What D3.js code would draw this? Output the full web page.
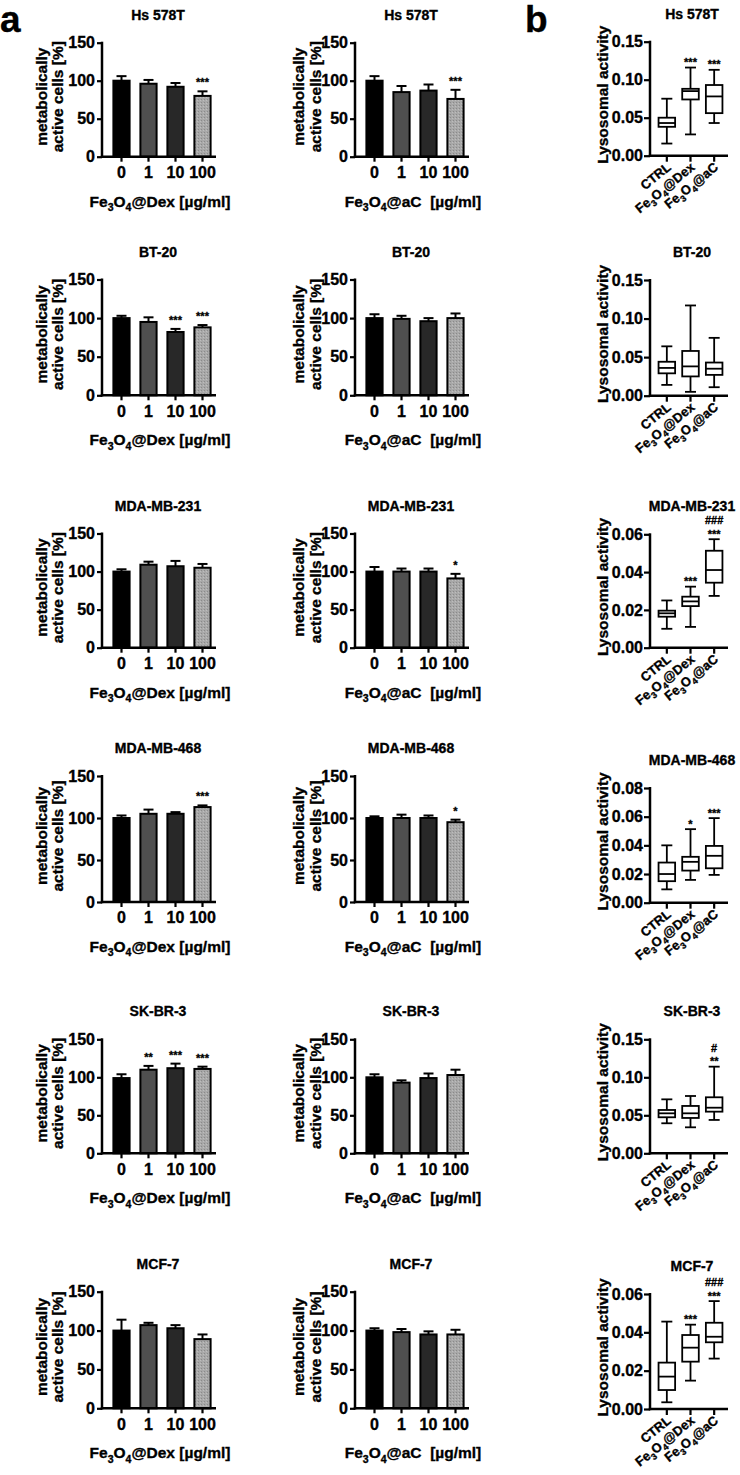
<!DOCTYPE html>
<html><head><meta charset="utf-8">
<script src="https://cdn.jsdelivr.net/npm/d3@7"></script>
<style>
body{margin:0;background:#fff}
text{font-family:"Liberation Sans",Arial,sans-serif;font-weight:bold;fill:#000;stroke:#000;stroke-width:0.35px;white-space:pre}
</style>
</head><body>
<svg id="c" width="740" height="1475"></svg>
<script>
// ---------- DATA ----------
const cellLines = ["Hs 578T","BT-20","MDA-MB-231","MDA-MB-468","SK-BR-3","MCF-7"];
const doses = ["0","1","10","100"];
// panel a – Fe3O4@Dex: mean, upper SD, significance
const dexMean = [[100,96,92,80],[100,95,82,88],[100,109,107,105],[100,105,105,113],[99,110,112,111],[100,107,103,89]];
const dexErr  = [[6,5,5,6],[3,6,4,3],[3,4,7,5],[3,5,2,2],[5,5,6,3],[14,3,4,6]];
const dexSig  = [["","","","***"],["","","***","***"],["","","",""],["","","","***"],["","**","***","***"],["","","",""]];
// panel a – Fe3O4@aC
const acMean = [[100,85,87,76],[100,99,96,100],[100,100,100,91],[100,100,100,95],[100,93,99,103],[100,98,95,95]];
const acErr  = [[6,8,8,12],[5,4,4,6],[6,4,4,6],[2,4,3,3],[4,3,6,7],[3,4,4,6]];
const acSig  = [["","","","***"],["","","",""],["","","","*"],["","","","*"],["","","",""],["","","",""]];
const aTicks = [0,50,100,150];
// panel b – lysosomal activity boxes [min, q1, median, q3, max]
const groups = ["CTRL","Fe3O4@Dex","Fe3O4@aC"];
const lysoMax  = [0.15,0.15,0.06,0.08,0.15,0.06];
const lysoStep = [0.05,0.05,0.02,0.02,0.05,0.02];
const lysoBoxes = [
  [[0.016,0.038,0.043,0.050,0.075],[0.028,0.074,0.085,0.088,0.116],[0.043,0.056,0.078,0.093,0.113]],
  [[0.014,0.029,0.036,0.044,0.064],[0.005,0.025,0.038,0.058,0.117],[0.011,0.027,0.035,0.043,0.075]],
  [[0.010,0.0164,0.0182,0.0196,0.025],[0.011,0.022,0.0245,0.027,0.0323],[0.0274,0.0344,0.0411,0.0513,0.0574]],
  [[0.0093,0.015,0.020,0.028,0.040],[0.0159,0.0224,0.0285,0.032,0.0513],[0.0194,0.024,0.0327,0.0396,0.059]],
  [[0.0395,0.0474,0.0526,0.057,0.071],[0.0342,0.0465,0.0526,0.0623,0.0754],[0.0439,0.0548,0.060,0.0737,0.114]],
  [[0.0035,0.0099,0.0169,0.0242,0.0456],[0.0148,0.0247,0.032,0.0386,0.044],[0.0263,0.0348,0.0377,0.045,0.0563]]
];
const lysoStars = [["","***","***"],["","",""],["","***","***"],["","*","***"],["","","**"],["","***","***"]];
const lysoHash  = [["","",""],["","",""],["","","###"],["","",""],["","","#"],["","","###"]];

// ---------- LAYOUT ----------
const rowTopA    = [42.7, 279.5, 533.5, 776, 1039.3, 1291.7];
const rowBottomA = [156.7, 395.3, 647.7, 902, 1153.3, 1408.3];
const rowTopB    = [41.7, 280, 534.3, 788, 1039.3, 1294];
const rowBottomB = [155.7, 395.7, 647.7, 902.7, 1153.3, 1409];
const colX = [102, 355, 650];
const barFill = ["#000000","#4f4f4f","#282828","url(#dots)"];

const svg = d3.select("#c");
const defs = svg.append("defs");
const pat = defs.append("pattern").attr("id","dots").attr("width",3).attr("height",3).attr("patternUnits","userSpaceOnUse");
pat.append("rect").attr("width",3).attr("height",3).attr("fill","#a8a8a8");
pat.append("rect").attr("x",0).attr("y",0).attr("width",1).attr("height",1).attr("fill","#8a8a8a");
pat.append("rect").attr("x",2).attr("y",1).attr("width",1).attr("height",1).attr("fill","#bdbdbd");

svg.append("text").attr("x",0).attr("y",32).attr("font-size",37).text("a");
svg.append("text").attr("x",525).attr("y",32).attr("font-size",37).text("b");

function feText(sel, rest, size){
  sel.append("tspan").text("Fe");
  sel.append("tspan").attr("font-size",size*0.68).attr("dy",size*0.28).text("3");
  sel.append("tspan").attr("dy",-size*0.28).text("O");
  sel.append("tspan").attr("font-size",size*0.68).attr("dy",size*0.28).text("4");
  sel.append("tspan").attr("dy",-size*0.28).text(rest);
}

function styleAxis(g){
  g.select(".domain").remove();
  g.selectAll(".tick line").attr("stroke","#000").attr("stroke-width",2.2);
  g.selectAll(".tick text").attr("font-family",'"Liberation Sans",Arial,sans-serif').attr("font-weight","bold").attr("fill","#000");
}

function panelA(row, col, means, errs, sigs, rest){
  const x0 = colX[col], yb = rowBottomA[row], yt = rowTopA[row];
  const y = d3.scaleLinear().domain([0,150]).range([yb,yt]);
  const x = d3.scaleBand().domain(doses).range([x0+6,x0+114]).paddingInner(0.4).paddingOuter(0.2);
  const g = svg.append("g");
  g.append("text").attr("x",x0+56).attr("y",yt-23).attr("text-anchor","middle").attr("font-size",14).text(cellLines[row]);
  const yc = (yb+yt)/2 - 3;
  const off = col===0 ? [-61,-45] : [-57,-40];
  g.append("text").attr("transform",`translate(${x0+off[0]},${yc}) rotate(-90)`).attr("text-anchor","middle")
    .attr("dominant-baseline","central").attr("font-size",15.5).text("metabolically");
  g.append("text").attr("transform",`translate(${x0+off[1]},${yc}) rotate(-90)`).attr("text-anchor","middle")
    .attr("dominant-baseline","central").attr("font-size",15.5).text("active cells [%]");
  doses.forEach((d,i)=>{
    const m = means[row][i], e = errs[row][i], cx = x(d)+x.bandwidth()/2;
    g.append("line").attr("x1",cx).attr("x2",cx).attr("y1",y(m)).attr("y2",y(m+e)).attr("stroke","#000").attr("stroke-width",2);
    g.append("line").attr("x1",cx-5).attr("x2",cx+5).attr("y1",y(m+e)).attr("y2",y(m+e)).attr("stroke","#000").attr("stroke-width",2);
    g.append("rect").attr("x",x(d)).attr("width",x.bandwidth()).attr("y",y(m)).attr("height",yb-y(m))
      .attr("fill",barFill[i]).attr("stroke","#000").attr("stroke-width",2);
    if(sigs[row][i]) g.append("text").attr("x",cx).attr("y",y(m+e)-5).attr("text-anchor","middle").attr("font-size",11).text(sigs[row][i]);
  });
  const ya = g.append("g").attr("transform",`translate(${x0},0)`)
    .call(d3.axisLeft(y).tickValues(aTicks).tickSize(5).tickPadding(2)).call(styleAxis);
  ya.selectAll(".tick text").attr("font-size",16);
  const xa = g.append("g").attr("transform",`translate(0,${yb})`)
    .call(d3.axisBottom(x).tickSize(5).tickPadding(5)).call(styleAxis);
  xa.selectAll(".tick text").attr("font-size",16);
  g.append("line").attr("x1",x0).attr("x2",x0).attr("y1",yt-1).attr("y2",yb+1.2).attr("stroke","#000").attr("stroke-width",2.5);
  g.append("line").attr("x1",x0-1.2).attr("x2",x0+114).attr("y1",yb).attr("y2",yb).attr("stroke","#000").attr("stroke-width",2.5);
  const xl = g.append("text").attr("x",x0+58).attr("y",yb+50).attr("text-anchor","middle").attr("font-size",15.5);
  feText(xl, rest, 15.5);
}

function panelB(row){
  const x0 = colX[2], yb = rowBottomB[row], yt = rowTopB[row];
  const y = d3.scaleLinear().domain([0,lysoMax[row]]).range([yb,yt]);
  const x = d3.scaleBand().domain(groups).range([x0+5,x0+76]).paddingInner(0.3).paddingOuter(0.15);
  const g = svg.append("g");
  g.append("text").attr("x",x0+42).attr("y",yt-23).attr("text-anchor","middle").attr("font-size",14).text(cellLines[row]);
  g.append("text").attr("transform",`translate(${x0-47.5},${(yb+yt)/2-4}) rotate(-90)`).attr("text-anchor","middle")
    .attr("dominant-baseline","central").attr("font-size",15.5).text("Lysosomal activity");
  groups.forEach((grp,i)=>{
    const b = lysoBoxes[row][i], cx = x(grp)+x.bandwidth()/2, bw = x.bandwidth();
    g.append("line").attr("x1",cx).attr("x2",cx).attr("y1",y(b[0])).attr("y2",y(b[4])).attr("stroke","#000").attr("stroke-width",1.8);
    [b[0],b[4]].forEach(v=>g.append("line").attr("x1",cx-5.5).attr("x2",cx+5.5).attr("y1",y(v)).attr("y2",y(v)).attr("stroke","#000").attr("stroke-width",1.8));
    g.append("rect").attr("x",cx-bw/2).attr("width",bw).attr("y",y(b[3])).attr("height",y(b[1])-y(b[3]))
      .attr("fill","#fff").attr("stroke","#000").attr("stroke-width",1.8);
    g.append("line").attr("x1",cx-bw/2).attr("x2",cx+bw/2).attr("y1",y(b[2])).attr("y2",y(b[2])).attr("stroke","#000").attr("stroke-width",1.8);
    if(lysoStars[row][i]) g.append("text").attr("x",cx).attr("y",y(b[4])-1.5).attr("text-anchor","middle").attr("font-size",11).text(lysoStars[row][i]);
    if(lysoHash[row][i]) g.append("text").attr("x",cx).attr("y",y(b[4])-15).attr("text-anchor","middle").attr("font-size",11).text(lysoHash[row][i]);
  });
  const ticks = d3.range(0, lysoMax[row]+1e-9, lysoStep[row]);
  const ya = g.append("g").attr("transform",`translate(${x0},0)`)
    .call(d3.axisLeft(y).tickValues(ticks).tickFormat(d3.format(".2f")).tickSize(6).tickPadding(1)).call(styleAxis);
  ya.selectAll(".tick text").attr("font-size",16);
  const xa = g.append("g").attr("transform",`translate(0,${yb})`)
    .call(d3.axisBottom(x).tickSize(6).tickFormat("")).call(styleAxis);
  xa.selectAll(".tick text").remove();
  groups.forEach(grp=>{
    const cx = x(grp)+x.bandwidth()/2;
    const t = g.append("text").attr("transform",`translate(${cx+5},${yb+13}) rotate(-39)`).attr("text-anchor","end").attr("font-size",13);
    if(grp.startsWith("Fe3O4")) feText(t, grp.slice(5), 13); else t.text(grp);
  });
  g.append("line").attr("x1",x0).attr("x2",x0).attr("y1",yt-1).attr("y2",yb+1.2).attr("stroke","#000").attr("stroke-width",2.5);
  g.append("line").attr("x1",x0-1.2).attr("x2",x0+78).attr("y1",yb).attr("y2",yb).attr("stroke","#000").attr("stroke-width",2.5);
}

cellLines.forEach((c,r)=>{
  panelA(r,0,dexMean,dexErr,dexSig,"@Dex [µg/ml]");
  panelA(r,1,acMean,acErr,acSig,"@aC  [µg/ml]");
  panelB(r);
});
</script>
</body></html>
